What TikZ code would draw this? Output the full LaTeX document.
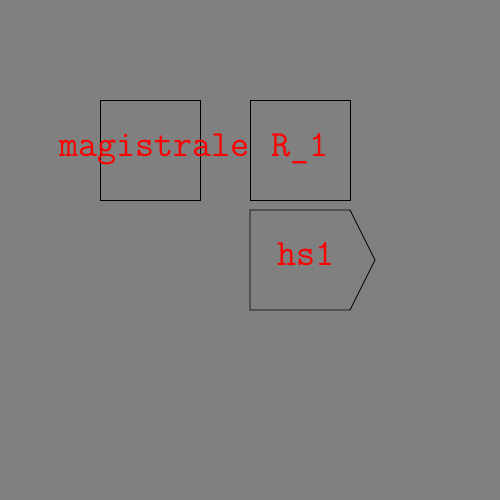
\documentclass[tikz,border=0pt]{standalone}
\definecolor{bg}{HTML}{808080}
\definecolor{lbl}{HTML}{FF0000}
\tikzset{
  shapebox/.style={draw=black, line width=0.8pt, minimum width=100pt, minimum height=100pt, inner sep=0pt},
  lbltext/.style={text=lbl, font=\ttfamily\fontsize{37}{37}\selectfont, inner sep=0pt, anchor=base}
}
\begin{document}
\begin{tikzpicture}[x=1pt,y=-1pt]
\fill[bg] (0,0) rectangle (500,500);
\useasboundingbox (0,0) rectangle (500,500);
\node[shapebox] (sq1) at (150,150) {};
\node[shapebox] (sq2) at (300,150) {};
\draw[line width=0.8pt] (250,210) coordinate (p1) -- (350,210) -- (375,260) -- (350,310) -- (250,310) -- cycle;
\node[lbltext] (t1) at (154.5,156) {magistrale};
\node[lbltext] (t2) at (300,156) {R\_1};
\node[lbltext] (t3) at (306,265) {hs1};
\end{tikzpicture}
\end{document}
